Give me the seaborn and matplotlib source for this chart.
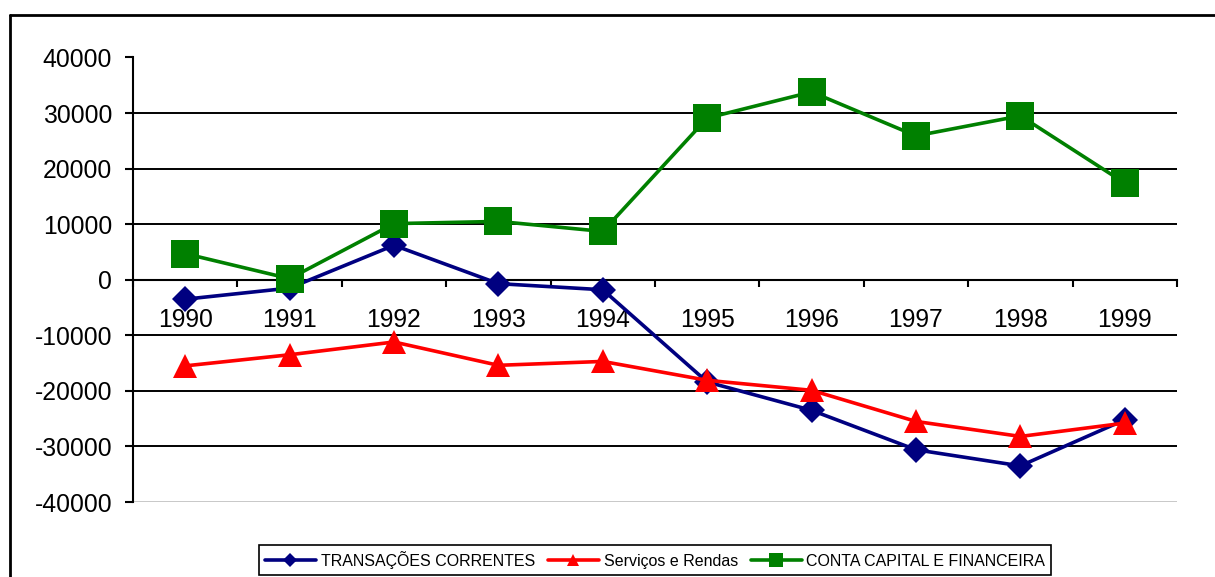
#!/usr/bin/env python

"""
Balanço de pagamentos do Brasil, 1990-1999 (US$ milhões).
"""

import matplotlib

matplotlib.use("Agg")
import matplotlib.pyplot as plt
import numpy as np
import pandas as pd
import seaborn as sns
from matplotlib.lines import Line2D
from matplotlib.ticker import FixedLocator

years = [1990, 1991, 1992, 1993, 1994, 1995, 1996, 1997, 1998, 1999]
transacoes = [-3500, -1500, 6200, -700, -1800, -18400, -23500, -30600, -33500, -25200]
servicos = [-15500, -13500, -11200, -15400, -14700, -18100, -19900, -25500, -28200, -25800]
conta_capital = [4700, 200, 10100, 10500, 8700, 29100, 33800, 25900, 29500, 17400]

labels = ["TRANSAÇÕES CORRENTES", "Serviços e Rendas", "CONTA CAPITAL E FINANCEIRA"]
colors = ["#000080", "#FF0000", "#008000"]
markers = ["D", "^", "s"]
msizes = [13.5, 17, 19.5]
yticks = [-40000, -30000, -20000, -10000, 0, 10000, 20000, 30000, 40000]


def main():
    sns.set_theme(style="white")
    plt.rcParams["font.family"] = ["Liberation Sans", "DejaVu Sans"]
    plt.rcParams["text.color"] = "black"

    df = pd.DataFrame(
        {
            "ano": years * 3,
            "valor": transacoes + servicos + conta_capital,
            "serie": [labels[0]] * 10 + [labels[1]] * 10 + [labels[2]] * 10,
        }
    )

    fig = plt.figure(figsize=(12.15, 5.77), dpi=100)
    ax = fig.add_axes([133 / 1215, 1 - 502 / 577, (1177 - 133) / 1215, (502 - 57.5) / 577])

    for lab, col, mk, ms in zip(labels, colors, markers, msizes):
        sub = df[df["serie"] == lab]
        sns.lineplot(
            data=sub, x="ano", y="valor", ax=ax, color=col, marker=mk,
            markersize=ms, markeredgewidth=0, linewidth=2.6, label=lab,
            zorder=3,
        )

    # move the category axis to y = 0 before styling ticks (this resets them)
    ax.spines["bottom"].set_position(("data", 0))

    ax.set_xlim(years[0] - 0.5, years[-1] + 0.5)
    ax.set_ylim(yticks[0], yticks[-1])
    ax.set_xlabel("")
    ax.set_ylabel("")

    # y axis
    ax.set_yticks(yticks)
    ax.set_yticklabels([str(v) for v in yticks])
    ax.tick_params(axis="y", direction="out", length=6, width=1.5, pad=9,
                   color="black", left=True, labelsize=17.8, labelcolor="black")
    ax.yaxis.grid(True, color="black", linewidth=1.4)
    for gl, v in zip(ax.yaxis.get_gridlines(), yticks):
        if abs(v) == 40000:
            gl.set_color("#c8c8c8")
    ax.xaxis.grid(False)

    # x axis: category labels centred, tick marks between categories
    ax.set_xticks(years)
    ax.set_xticklabels([str(y) for y in years])
    ax.xaxis.set_minor_locator(FixedLocator(np.arange(years[0] - 0.5, years[-1] + 1, 1)))
    ax.tick_params(axis="x", which="major", length=0, pad=20, labelsize=17.8,
                   labelcolor="black")
    ax.tick_params(axis="x", which="minor", direction="out", length=5, width=1.5,
                   color="black", bottom=True)

    ax.spines["bottom"].set_color("black")
    ax.spines["bottom"].set_linewidth(1.5)
    ax.spines["left"].set_color("black")
    ax.spines["left"].set_linewidth(1.5)
    ax.spines["top"].set_visible(False)
    ax.spines["right"].set_visible(False)

    handles, labs = ax.get_legend_handles_labels()
    ax.get_legend().remove()
    leg = fig.legend(
        handles, labs, loc="center", bbox_to_anchor=(655 / 1215, 1 - 560 / 577),
        ncol=3, frameon=True, fancybox=False, edgecolor="black", framealpha=1,
        fontsize=11.5, handlelength=3.2, handletextpad=0.3, columnspacing=0.8,
        markerscale=0.55, borderpad=0.35,
    )
    leg.get_frame().set_linewidth(1.2)

    # outer chart frame (top and left edges)
    fig.add_artist(Line2D([10 / 1215, 10 / 1215], [0, 1 - 15 / 577],
                          transform=fig.transFigure, color="black", lw=2))
    fig.add_artist(Line2D([10 / 1215, 1], [1 - 15 / 577, 1 - 15 / 577],
                          transform=fig.transFigure, color="black", lw=2))

    fig.savefig("out.png", dpi=100)


if __name__ == "__main__":
    main()
